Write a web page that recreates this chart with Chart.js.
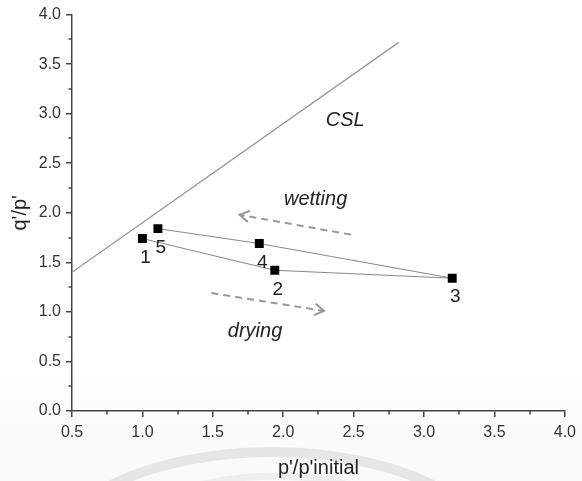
<!DOCTYPE html>
<html>
<head>
<meta charset="utf-8">
<script src="https://cdn.jsdelivr.net/npm/chart.js@4/dist/chart.umd.min.js"></script>
<style>
html,body{margin:0;padding:0;background:#fff;}
#wrap{width:582px;height:481px;position:relative;}
</style>
</head>
<body>
<div id="wrap"><canvas id="c" width="582" height="481"></canvas></div>
<script>
// ---- data ----
const pathX = [1.00, 1.94, 3.20, 1.83, 1.11];
const pathY = [1.74, 1.42, 1.34, 1.69, 1.84];
const pathLabels = ['1', '2', '3', '4', '5'];

const cslX = [0.5, 2.82];
const cslY = [1.40, 3.72];

const wettingX = [2.48, 1.69];
const wettingY = [1.78, 1.98];
const dryingX = [1.49, 2.29];
const dryingY = [1.19, 1.01];

const noteTexts = ['CSL', 'wetting', 'drying'];
const noteX = [2.44, 2.23, 1.80];
const noteY = [2.93, 2.13, 0.80];

const xTicks = [0.5, 1.0, 1.5, 2.0, 2.5, 3.0, 3.5, 4.0];
const yTicks = [0.0, 0.5, 1.0, 1.5, 2.0, 2.5, 3.0, 3.5, 4.0];

const FONT = "'Liberation Sans', Arial, sans-serif";
const toPts = (xs, ys) => xs.map((x, i) => ({x, y: ys[i]}));

const bgPlugin = {
  id: 'bg',
  beforeDraw(chart) {
    const ctx = chart.ctx;
    ctx.save();
    ctx.fillStyle = '#fff';
    ctx.fillRect(0, 0, chart.width, chart.height);
    const g = ctx.createLinearGradient(0, 340, 0, 481);
    g.addColorStop(0, 'rgba(0,0,0,0)');
    g.addColorStop(1, 'rgba(0,0,0,0.025)');
    ctx.fillStyle = g;
    ctx.fillRect(0, 340, chart.width, 141);
    // faint watermark arcs
    ctx.strokeStyle = 'rgba(0,0,0,0.08)';
    ctx.lineWidth = 10;
    ctx.beginPath();
    ctx.ellipse(272, 562, 225, 110, 0, Math.PI, 2 * Math.PI);
    ctx.stroke();
    ctx.strokeStyle = 'rgba(0,0,0,0.045)';
    ctx.lineWidth = 7;
    ctx.beginPath();
    ctx.ellipse(275, 582, 185, 106, 0, Math.PI, 2 * Math.PI);
    ctx.stroke();
    ctx.restore();
  }
};

const overlayPlugin = {
  id: 'overlay',
  afterDatasetsDraw(chart) {
    const ctx = chart.ctx;
    const xs = chart.scales.x, ys = chart.scales.y;
    ctx.save();
    // minor ticks
    ctx.strokeStyle = '#444';
    ctx.lineWidth = 1.5;
    const bottom = chart.chartArea.bottom, left = chart.chartArea.left;
    for (let i = 0; i < xTicks.length - 1; i++) {
      const px = Math.round(xs.getPixelForValue((xTicks[i] + xTicks[i + 1]) / 2));
      ctx.beginPath(); ctx.moveTo(px, bottom); ctx.lineTo(px, bottom + 3.5); ctx.stroke();
    }
    for (let i = 0; i < yTicks.length - 1; i++) {
      const py = Math.round(ys.getPixelForValue((yTicks[i] + yTicks[i + 1]) / 2));
      ctx.beginPath(); ctx.moveTo(left, py); ctx.lineTo(left - 3.5, py); ctx.stroke();
    }
    // arrowheads
    const arrowHead = (xArr, yArr) => {
      const n = xArr.length;
      const x1 = xs.getPixelForValue(xArr[n - 2]), y1 = ys.getPixelForValue(yArr[n - 2]);
      const x2 = xs.getPixelForValue(xArr[n - 1]), y2 = ys.getPixelForValue(yArr[n - 1]);
      const a = Math.atan2(y2 - y1, x2 - x1);
      const L = 11, w = 0.55;
      ctx.strokeStyle = '#999';
      ctx.lineWidth = 2;
      ctx.setLineDash([]);
      ctx.beginPath();
      ctx.moveTo(x2 - L * Math.cos(a - w), y2 - L * Math.sin(a - w));
      ctx.lineTo(x2, y2);
      ctx.lineTo(x2 - L * Math.cos(a + w), y2 - L * Math.sin(a + w));
      ctx.stroke();
    };
    arrowHead(wettingX, wettingY);
    arrowHead(dryingX, dryingY);
    // point labels
    ctx.fillStyle = '#222';
    ctx.font = '19px ' + FONT;
    ctx.textAlign = 'center';
    ctx.textBaseline = 'middle';
    pathX.forEach((x, i) => {
      ctx.fillText(pathLabels[i], xs.getPixelForValue(x) + 3, ys.getPixelForValue(pathY[i]) + 19);
    });
    // notes
    ctx.font = 'italic 20px ' + FONT;
    noteTexts.forEach((t, i) => {
      ctx.fillText(t, xs.getPixelForValue(noteX[i]), ys.getPixelForValue(noteY[i]));
    });
    ctx.restore();
  }
};

new Chart(document.getElementById('c'), {
  type: 'scatter',
  data: {
    datasets: [
      {
        data: toPts(cslX, cslY), showLine: true, borderColor: '#999', borderWidth: 1.3,
        pointRadius: 0, pointHoverRadius: 0
      },
      {
        data: toPts(wettingX, wettingY), showLine: true, borderColor: '#999', borderWidth: 2,
        borderDash: [7, 5], pointRadius: 0, pointHoverRadius: 0
      },
      {
        data: toPts(dryingX, dryingY), showLine: true, borderColor: '#999', borderWidth: 2,
        borderDash: [7, 5], pointRadius: 0, pointHoverRadius: 0
      },
      {
        data: toPts(pathX, pathY), showLine: true, borderColor: '#888', borderWidth: 1,
        pointStyle: 'rect', pointRadius: 6.3, pointBackgroundColor: '#000', pointBorderWidth: 0,
        pointBorderColor: '#000'
      }
    ]
  },
  options: {
    responsive: false,
    animation: false,
    events: [],
    layout: {padding: {left: 0, top: 14, right: 14, bottom: 0}},
    plugins: {legend: {display: false}, tooltip: {enabled: false}},
    scales: {
      x: {
        type: 'linear', min: 0.5, max: 4.0,
        afterFit(s) { s.height = 70; },
        afterBuildTicks(s) { s.ticks = xTicks.map(v => ({value: v})); },
        ticks: {color: '#333', font: {family: FONT, size: 16}, padding: 6,
          callback: v => Number(v).toFixed(1), maxRotation: 0, autoSkip: false},
        grid: {drawOnChartArea: false, color: '#444', lineWidth: 1.5, tickLength: 6},
        border: {display: true, color: '#444', width: 1.5},
        title: {display: true, text: "p'/p'initial", color: '#222',
          font: {family: FONT, size: 20}, padding: {top: 0, bottom: 1}}
      },
      y: {
        type: 'linear', min: 0, max: 4.0,
        afterFit(s) { s.width = 72; },
        afterBuildTicks(s) { s.ticks = yTicks.map(v => ({value: v})); },
        ticks: {color: '#333', font: {family: FONT, size: 16}, padding: 5,
          callback: v => Number(v).toFixed(1), autoSkip: false},
        grid: {drawOnChartArea: false, color: '#444', lineWidth: 1.5, tickLength: 6},
        border: {display: true, color: '#444', width: 1.5},
        title: {display: true, text: "q'/p'", color: '#222',
          font: {family: FONT, size: 20}, padding: {top: 8, bottom: 0}}
      }
    }
  },
  plugins: [bgPlugin, overlayPlugin]
});
</script>
</body>
</html>
